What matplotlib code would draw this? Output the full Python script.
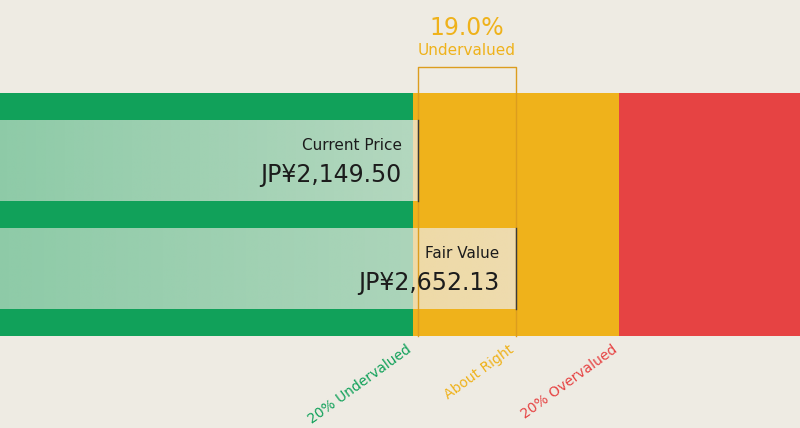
import numpy as np
import matplotlib.pyplot as plt
from matplotlib.patches import Rectangle

# values
current_price = 2149.50
fair_value = 2652.13
bar_labels = ['Current Price', 'Fair Value']
bar_values = [current_price, fair_value]
zone_labels = ['20% Undervalued', 'About Right', '20% Overvalued']
zone_edges = [0.8 * fair_value, fair_value, 1.2 * fair_value]
discount = (fair_value - current_price) / fair_value * 100

BG = '#eeebe3'
GREEN = '#11a15a'
YELLOW = '#efb21b'
RED = '#e64343'
BRACKET = '#dc9d1e'
TEXT = '#1c1c1c'

xmax = fair_value * 800 / 516
px = xmax / 800  # data units per pixel

fig = plt.figure(figsize=(8, 4.28), dpi=100, facecolor=BG)
ax = fig.add_axes([0, 0, 1, 1])
ax.set_facecolor(BG)
ax.set_xlim(0, xmax)
ax.set_ylim(428, 0)
ax.axis('off')

band_top, band_bot = 93, 336
ax.add_patch(Rectangle((0, band_top), zone_edges[0], band_bot - band_top, color=GREEN, lw=0))
ax.add_patch(Rectangle((zone_edges[0], band_top), zone_edges[2] - zone_edges[0], band_bot - band_top, color=YELLOW, lw=0))
ax.add_patch(Rectangle((zone_edges[2], band_top), xmax - zone_edges[2], band_bot - band_top, color=RED, lw=0))

# translucent overlay bars with left-to-right gradient
bar_rows = [(120, 201), (228, 309)]
for (y0, y1), val, lab in zip(bar_rows, bar_values, bar_labels):
    grad = np.zeros((1, 256, 4))
    grad[..., 0] = 238 / 255
    grad[..., 1] = 235 / 255
    grad[..., 2] = 227 / 255
    grad[..., 3] = np.linspace(0.57, 0.74, 256)
    ax.imshow(grad, extent=(0, val, y1, y0), aspect='auto', interpolation='bilinear', zorder=2)
    ax.plot([val, val], [y0, y1], color='#3a3a3a', lw=1, zorder=4)
    ax.annotate(lab, (val, (y0 + y1) / 2), xytext=(-12, 7.5), textcoords='offset points',
                ha='right', va='baseline', fontsize=11, color=TEXT, zorder=5)
    ax.annotate(f'JP¥{val:,.2f}', (val, (y0 + y1) / 2), xytext=(-12, -15.5), textcoords='offset points',
                ha='right', va='baseline', fontsize=17, color=TEXT, zorder=5)

# bracket between current price and fair value
ax.plot([current_price, current_price, fair_value, fair_value], [band_bot, 67, 67, band_bot],
        color=BRACKET, lw=1, zorder=3)
mid = (current_price + fair_value) / 2
ax.text(mid, 35, f'{discount:.1f}%', ha='center', va='baseline', fontsize=17, color=YELLOW)
ax.text(mid, 55, 'Undervalued', ha='center', va='baseline', fontsize=11, color=YELLOW)

# rotated zone labels
for lab, edge, col in zip(zone_labels, zone_edges, [GREEN, YELLOW, RED]):
    ax.text(edge - 1 * px, band_bot + 15, lab, rotation=36, rotation_mode='anchor',
            ha='right', va='baseline', fontsize=10, color=col)

fig.savefig('out.png', dpi=100, facecolor=BG)
